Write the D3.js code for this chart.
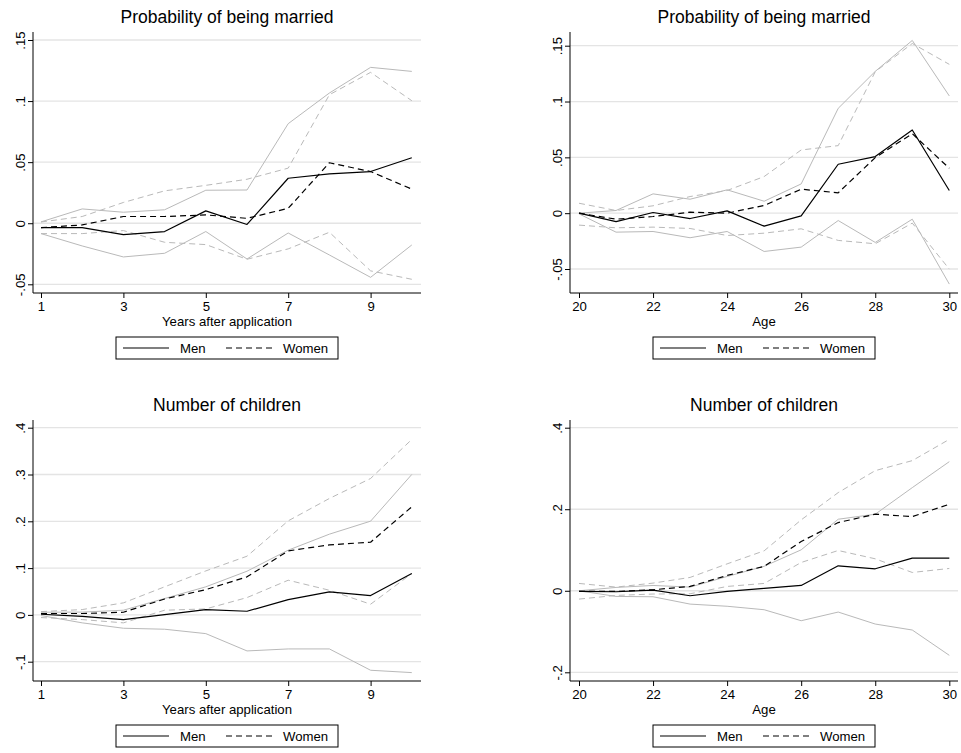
<!DOCTYPE html>
<html><head><meta charset="utf-8">
<script src="https://cdn.jsdelivr.net/npm/d3@7"></script>
<style>
body{margin:0;background:#fff;}
svg{display:block;font-family:"Liberation Sans",Arial,Helvetica,sans-serif;}
</style></head>
<body>
<svg id="c" width="961" height="753"></svg>
<script>
// ---------- DATA ----------
const yearsAfter = [1,2,3,4,5,6,7,8,9,10];
const ages = [20,21,22,23,24,25,26,27,28,29,30];
const yearsTicks = [1,3,5,7,9];
const ageTicks = [20,22,24,26,28,30];
const marriedTicks = [-0.05,0,0.05,0.1,0.15];
const marriedTickLabels = ["-.05","0",".05",".1",".15"];
const childrenTicksYears = [-0.1,0,0.1,0.2,0.3,0.4];
const childrenTickLabelsYears = ["-.1","0",".1",".2",".3",".4"];
const childrenTicksAge = [-0.2,0,0.2,0.4];
const childrenTickLabelsAge = ["-.2","0",".2",".4"];
const legendLabels = ["Men","Women"];

// Panel 1: married by years after application
const marYrsMen     = [-0.0036,-0.0036,-0.0093,-0.0068,0.0101,-0.0010,0.0368,0.0404,0.0423,0.0536];
const marYrsMenHi   = [0.0011,0.0117,0.0090,0.0110,0.0270,0.0272,0.0815,0.1066,0.1276,0.1243];
const marYrsMenLo   = [-0.0085,-0.0186,-0.0276,-0.0246,-0.0068,-0.0293,-0.0080,-0.0260,-0.0443,-0.0178];
const marYrsWom     = [-0.0036,-0.0014,0.0055,0.0055,0.0068,0.0040,0.0122,0.0495,0.0423,0.0279];
const marYrsWomHi   = [0.0010,0.0055,0.0170,0.0265,0.0310,0.0360,0.0451,0.1052,0.1235,0.1003];
const marYrsWomLo   = [-0.0085,-0.0085,-0.0060,-0.0156,-0.0175,-0.0295,-0.0210,-0.0074,-0.0390,-0.0459];

// Panel 2: married by age
const marAgeMen     = [0,-0.0075,0.0006,-0.0048,0.0021,-0.0116,-0.0024,0.0438,0.0507,0.0745,0.0203];
const marAgeMenHi   = [0,0.0024,0.0173,0.0125,0.0209,0.0107,0.0262,0.0939,0.1270,0.1547,0.1050];
const marAgeMenLo   = [-0.0006,-0.0170,-0.0164,-0.0220,-0.0164,-0.0343,-0.0304,-0.0066,-0.0262,-0.0054,-0.0635];
const marAgeWom     = [0,-0.0054,-0.0030,0.0009,0,0.0069,0.0215,0.0182,0.0498,0.0712,0.0402];
const marAgeWomHi   = [0.0089,0.0024,0.0066,0.0149,0.0203,0.0328,0.0566,0.0605,0.1267,0.1520,0.1333];
const marAgeWomLo   = [-0.0107,-0.0131,-0.0125,-0.0137,-0.0200,-0.0179,-0.0140,-0.0244,-0.0274,-0.0089,-0.0501];

// Panel 3: children by years after application
const chYrsMen      = [0.0014,-0.0030,-0.0100,0.0005,0.0114,0.0078,0.0328,0.0492,0.0413,0.0884];
const chYrsMenHi    = [0.0057,0.0060,0.0100,0.0350,0.0600,0.0934,0.1383,0.1725,0.2003,0.3001];
const chYrsMenLo    = [-0.0014,-0.0170,-0.0285,-0.0306,-0.0400,-0.0770,-0.0727,-0.0727,-0.1183,-0.1233];
const chYrsWom      = [0.0030,0.0030,0.0057,0.0340,0.0540,0.0813,0.1368,0.1497,0.1554,0.2310];
const chYrsWomHi    = [0.0070,0.0114,0.0257,0.0600,0.0940,0.1254,0.2010,0.2488,0.2915,0.3749];
const chYrsWomLo    = [-0.0057,-0.0100,-0.0170,0.0100,0.0128,0.0370,0.0741,0.0527,0.0228,0.0884];

// Panel 4: children by age
const chAgeMen      = [-0.0016,-0.0024,0.0016,-0.0122,-0.0016,0.0060,0.0130,0.0612,0.0539,0.0800,0.0800];
const chAgeMenHi    = [0,0.0082,0.0130,0.0090,0.0350,0.0600,0.1004,0.1755,0.1878,0.2530,0.3167];
const chAgeMenLo    = [0,-0.0139,-0.0147,-0.0327,-0.0380,-0.0465,-0.0735,-0.0522,-0.0816,-0.0963,-0.1584];
const chAgeWom      = [-0.0016,-0.0016,0.0024,0.0106,0.0376,0.0600,0.1208,0.1673,0.1878,0.1820,0.2122];
const chAgeWomHi    = [0.0180,0.0090,0.0188,0.0327,0.0660,0.0980,0.1739,0.2408,0.2947,0.3192,0.3714];
const chAgeWomLo    = [-0.0204,-0.0114,-0.0080,-0.0073,0.0106,0.0180,0.0694,0.0988,0.0784,0.0449,0.0547];

// ---------- DRAWING ----------
const svg = d3.select("#c");
const FONT = 13.2;
const TITLE_FONT = 17.5;
const gray = "#b9b9b9";
const DASH = "6,4";

const panels = [
  {title:"Probability of being married", xlab:"Years after application", xs:yearsAfter, xt:yearsTicks,
   xDom:[1,10], xRng:[41,411.8], yt:marriedTicks, yl:marriedTickLabels, yDom:[-0.05,0.15], yRng:[284.3,40],
   L:33, R:421, T:32, B:293,
   men:marYrsMen, menHi:marYrsMenHi, menLo:marYrsMenLo, wom:marYrsWom, womHi:marYrsWomHi, womLo:marYrsWomLo},
  {title:"Probability of being married", xlab:"Age", xs:ages, xt:ageTicks,
   xDom:[20,30], xRng:[579,949.3], yt:marriedTicks, yl:marriedTickLabels, yDom:[-0.05,0.15], yRng:[269,45.7],
   L:570, R:958, T:32, B:293,
   men:marAgeMen, menHi:marAgeMenHi, menLo:marAgeMenLo, wom:marAgeWom, womHi:marAgeWomHi, womLo:marAgeWomLo},
  {title:"Number of children", xlab:"Years after application", xs:yearsAfter, xt:yearsTicks,
   xDom:[1,10], xRng:[41,411.8], yt:childrenTicksYears, yl:childrenTickLabelsYears, yDom:[-0.1,0.4], yRng:[661.7,427.7],
   L:33, R:421, T:420, B:681,
   men:chYrsMen, menHi:chYrsMenHi, menLo:chYrsMenLo, wom:chYrsWom, womHi:chYrsWomHi, womLo:chYrsWomLo},
  {title:"Number of children", xlab:"Age", xs:ages, xt:ageTicks,
   xDom:[20,30], xRng:[579,949.3], yt:childrenTicksAge, yl:childrenTickLabelsAge, yDom:[-0.2,0.4], yRng:[672.3,427.7],
   L:570, R:958, T:420, B:681,
   men:chAgeMen, menHi:chAgeMenHi, menLo:chAgeMenLo, wom:chAgeWom, womHi:chAgeWomHi, womLo:chAgeWomLo}
];

panels.forEach(p => {
  const g = svg.append("g");
  const x = d3.scaleLinear().domain(p.xDom).range(p.xRng);
  const y = d3.scaleLinear().domain(p.yDom).range(p.yRng);
  const cx = (p.L + p.R) / 2;

  // gridlines
  g.append("g").selectAll("line").data(p.yt).join("line")
    .attr("x1", p.L).attr("x2", p.R)
    .attr("y1", d => y(d)).attr("y2", d => y(d))
    .attr("stroke", "#e4e4e4").attr("stroke-width", 1.3);

  const line = d3.line().x((d,i) => x(p.xs[i])).y(d => y(d));
  const series = [
    {v:p.menHi, c:gray, w:1, dash:null},
    {v:p.menLo, c:gray, w:1, dash:null},
    {v:p.womHi, c:gray, w:1, dash:DASH},
    {v:p.womLo, c:gray, w:1, dash:DASH},
    {v:p.wom, c:"#000", w:1.2, dash:DASH},
    {v:p.men, c:"#000", w:1.2, dash:null}
  ];
  series.forEach(s => {
    g.append("path").datum(s.v).attr("d", line)
      .attr("fill","none").attr("stroke", s.c).attr("stroke-width", s.w)
      .attr("stroke-dasharray", s.dash).attr("stroke-linejoin","round");
  });

  // axes
  const yAx = g.append("g").attr("transform", `translate(${p.L},0)`)
    .call(d3.axisLeft(y).tickValues(p.yt).tickSize(5).tickFormat((d,i) => p.yl[i]));
  yAx.select(".domain").remove();
  yAx.selectAll(".tick line").attr("stroke","#000");
  yAx.selectAll(".tick text").attr("transform","rotate(-90)")
    .attr("x", 0).attr("dx", 0).attr("y", -8).attr("dy", 0)
    .attr("text-anchor","middle").style("font-size", FONT+"px")
    .style("font-family", "'Liberation Sans',Arial,sans-serif").attr("fill","#000");
  g.append("line").attr("x1",p.L).attr("x2",p.L).attr("y1",p.T).attr("y2",p.B)
    .attr("stroke","#000").attr("stroke-width",1);

  const xAx = g.append("g").attr("transform", `translate(0,${p.B})`)
    .call(d3.axisBottom(x).tickValues(p.xt).tickSize(5).tickFormat(d3.format("d")));
  xAx.select(".domain").remove();
  xAx.selectAll(".tick line").attr("stroke","#000");
  xAx.selectAll(".tick text").attr("y", 18).attr("dy", 0)
    .style("font-size", FONT+"px").style("font-family","'Liberation Sans',Arial,sans-serif").attr("fill","#000");
  g.append("line").attr("x1",p.L).attr("x2",p.R).attr("y1",p.B).attr("y2",p.B)
    .attr("stroke","#000").attr("stroke-width",1);

  // title
  g.append("text").attr("x", cx).attr("y", p.T - 9).attr("text-anchor","middle")
    .style("font-size", TITLE_FONT+"px").text(p.title);
  // x label
  g.append("text").attr("x", cx).attr("y", p.B + 33).attr("text-anchor","middle")
    .style("font-size", FONT+"px").text(p.xlab);

  // legend
  const lw = 222, lh = 22;
  const lx = cx - lw/2, ly = p.B + 44;
  const lg = g.append("g").attr("transform", `translate(${lx},${ly})`);
  lg.append("rect").attr("width", lw).attr("height", lh).attr("fill","#fff")
    .attr("stroke","#000").attr("stroke-width",1);
  lg.append("line").attr("x1",7).attr("x2",53).attr("y1",lh/2).attr("y2",lh/2)
    .attr("stroke","#000").attr("stroke-width",1.2);
  lg.append("text").attr("x",64).attr("y",lh/2+4.5).style("font-size",FONT+"px").text(legendLabels[0]);
  lg.append("line").attr("x1",110).attr("x2",160).attr("y1",lh/2).attr("y2",lh/2)
    .attr("stroke","#000").attr("stroke-width",1.2).attr("stroke-dasharray",DASH);
  lg.append("text").attr("x",167).attr("y",lh/2+4.5).style("font-size",FONT+"px").text(legendLabels[1]);
});
</script>
</body></html>
